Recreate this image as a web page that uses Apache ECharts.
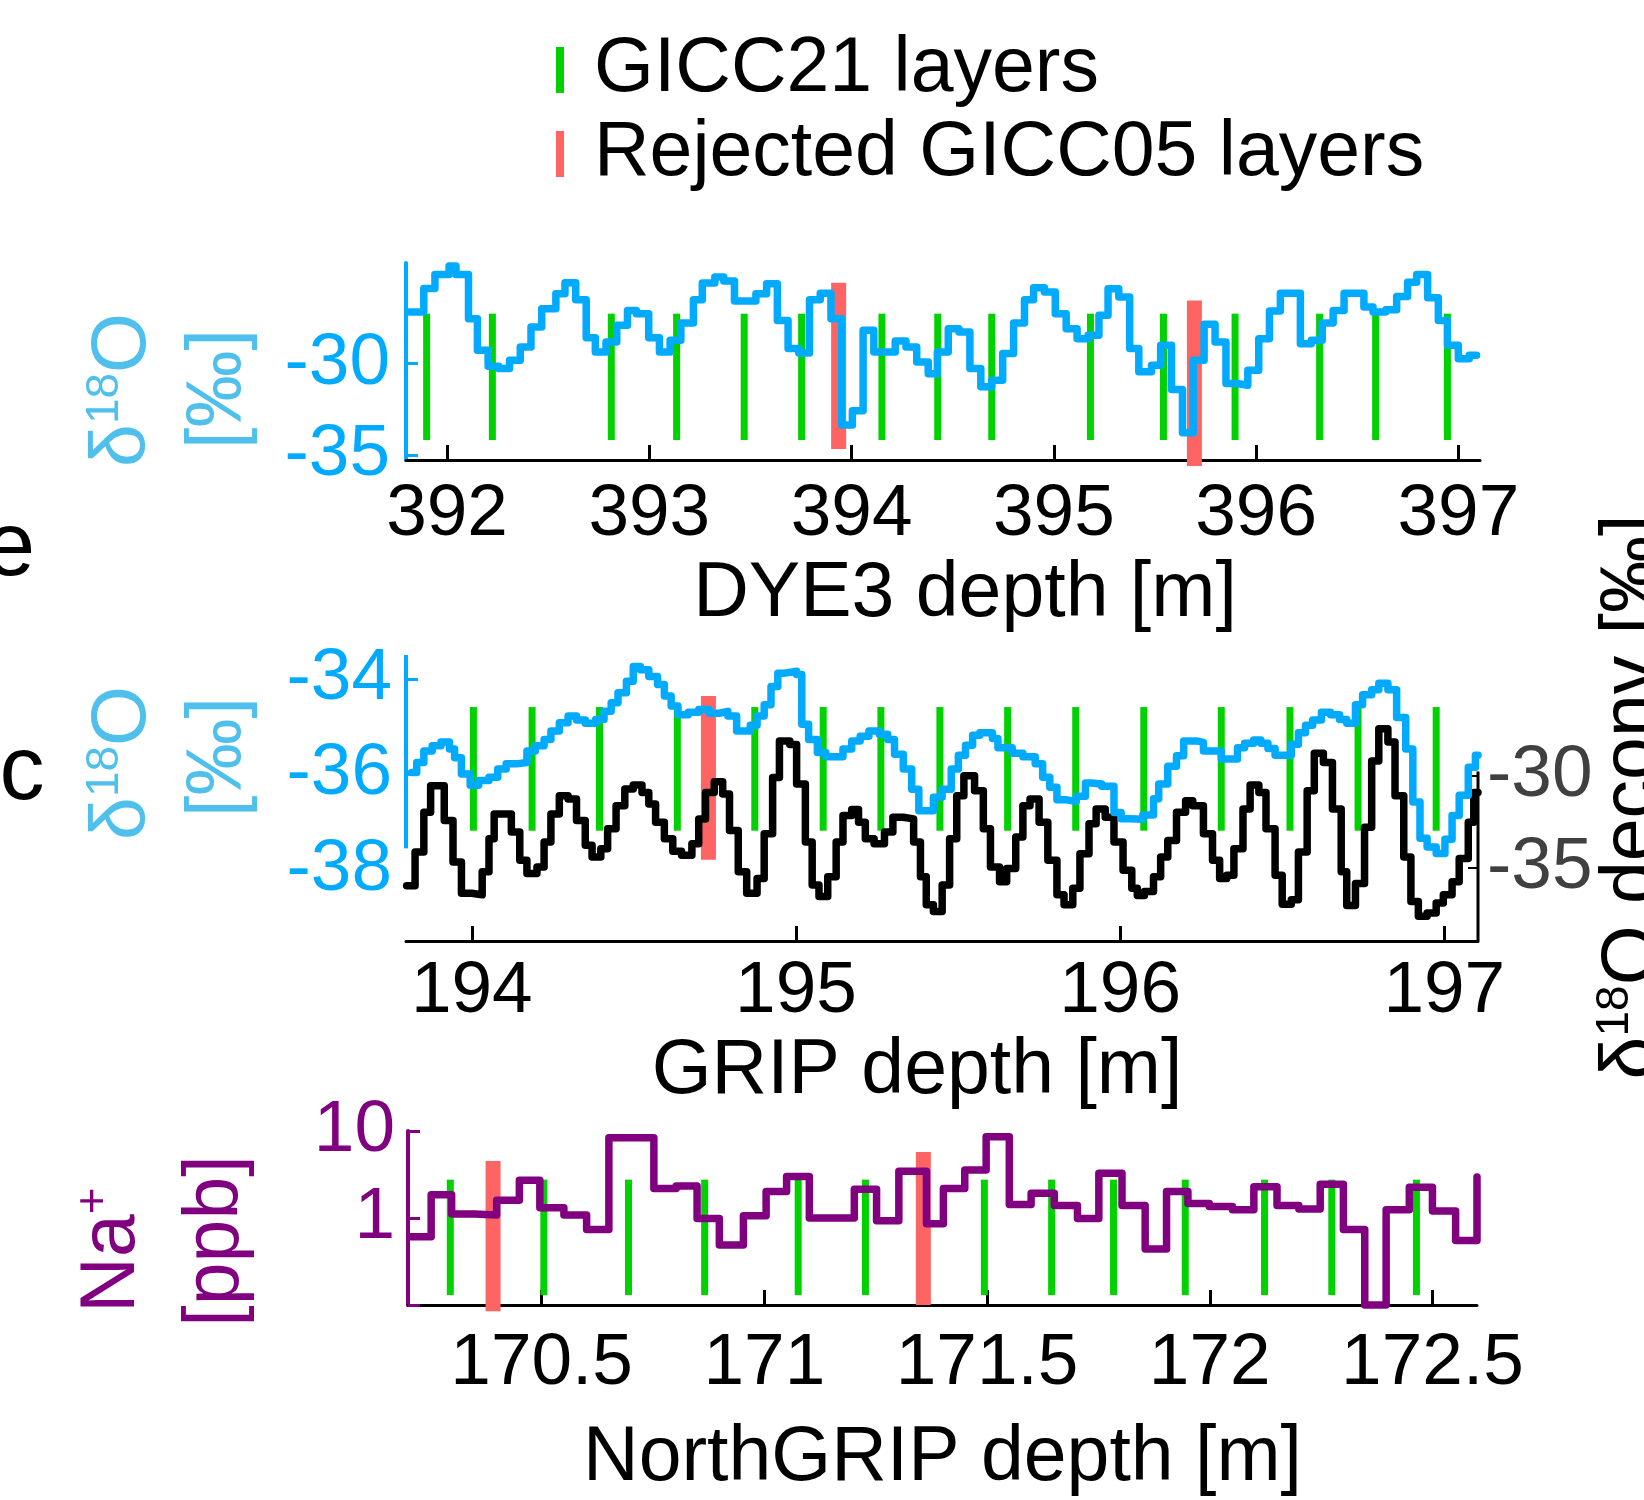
<!DOCTYPE html>
<html><head><meta charset="utf-8">
<script src="https://cdn.jsdelivr.net/npm/echarts@6/dist/echarts.min.js"></script>
<style>html,body{margin:0;padding:0;background:#fff}#chart{width:1644px;height:1500px}</style>
</head><body><div id="chart"></div>
<script>
// ---------- DYE3 (panel e) ----------
const dye3Depth = [391.815,391.885,391.94,392.01,392.044,392.106,392.15,392.203,392.256,392.309,392.362,392.415,392.468,392.538,392.583,392.636,392.688,392.733,392.786,392.839,392.892,392.936,392.997,393.05,393.103,393.156,393.218,393.262,393.324,393.368,393.421,393.527,393.58,393.633,393.686,393.739,393.792,393.845,393.898,393.951,394.004,394.057,394.11,394.216,394.269,394.322,394.379,394.424,394.478,394.531,394.585,394.639,394.693,394.747,394.801,394.855,394.9,394.953,395.007,395.061,395.115,395.169,395.223,395.268,395.321,395.375,395.42,395.483,395.528,395.582,395.636,395.689,395.743,395.797,395.851,395.905,395.959,396.013,396.066,396.12,396.219,396.273,396.327,396.381,396.435,396.533,396.578,396.641,396.695,396.749,396.794,396.848,396.901,396.946,397.0,397.054,397.09];
const dye3D18O = [-27.18,-25.9,-25.13,-24.67,-25.13,-27.55,-29.27,-30.15,-30.27,-29.82,-29.09,-28.0,-27.0,-26.18,-25.58,-26.51,-28.58,-29.36,-28.82,-27.91,-27.09,-27.27,-28.58,-29.36,-28.73,-27.78,-26.51,-25.6,-25.27,-25.49,-26.58,-26.18,-25.64,-27.64,-29.18,-29.42,-26.51,-26.15,-27.55,-33.36,-32.58,-28.18,-29.36,-28.76,-29.09,-29.91,-30.55,-29.36,-28.09,-28.27,-30.27,-31.27,-30.91,-29.45,-27.78,-26.51,-25.85,-26.09,-27.27,-28.09,-28.64,-28.45,-27.36,-25.91,-26.36,-29.18,-30.45,-30.09,-29.0,-31.42,-33.78,-29.82,-27.85,-28.82,-31.09,-31.18,-30.36,-28.64,-27.13,-26.15,-28.91,-28.73,-27.78,-27.09,-26.15,-26.91,-27.18,-27.05,-26.33,-25.55,-25.13,-26.4,-27.64,-29.0,-29.73,-29.55,-29.55];
const dye3Layers = [391.899,392.224,392.812,393.135,393.469,393.753,394.15,394.426,394.693,395.181,395.542,395.896,396.314,396.591,396.946];
const dye3Rejected = [393.936,395.695];
const dye3LayerSpan = [-34.18,-27.27];
const dye3RejectedSpans = [[-34.67,-25.58],[-35.6,-26.55]];
const dye3XTicks = [392,393,394,395,396,397];
const dye3YTicks = [-35,-30];

// ---------- GRIP (panel c) ----------
const gripDepth = [193.814,193.830,193.852,193.878,193.905,193.931,193.947,193.968,193.995,194.021,194.053,194.08,194.106,194.138,194.170,194.196,194.223,194.244,194.270,194.297,194.323,194.35,194.382,194.408,194.43,194.451,194.477,194.498,194.520,194.546,194.573,194.594,194.615,194.636,194.668,194.700,194.732,194.764,194.79,194.817,194.859,194.88,194.902,194.923,194.944,194.965,195.002,195.018,195.039,195.066,195.092,195.145,195.172,195.198,195.225,195.257,195.283,195.304,195.331,195.357,195.379,195.424,195.451,195.479,195.501,195.523,195.545,195.567,195.606,195.623,195.667,195.700,195.738,195.761,195.783,195.805,195.832,195.865,195.893,195.91,195.943,195.981,196.003,196.031,196.07,196.103,196.119,196.147,196.174,196.196,196.235,196.257,196.312,196.362,196.384,196.412,196.434,196.456,196.478,196.528,196.55,196.572,196.594,196.621,196.649,196.677,196.699,196.726,196.748,196.776,196.798,196.826,196.853,196.881,196.903,196.925,196.947,196.975,197.002,197.024,197.046,197.074,197.096,197.104];
const gripD18O = [-35.96,-35.75,-35.51,-35.40,-35.32,-35.47,-35.65,-35.99,-36.23,-36.13,-36.06,-35.89,-35.78,-35.75,-35.51,-35.40,-35.27,-35.09,-34.92,-34.78,-34.86,-34.93,-34.85,-34.68,-34.50,-34.29,-34.05,-33.74,-33.81,-33.95,-34.12,-34.36,-34.57,-34.75,-34.70,-34.64,-34.72,-34.68,-34.78,-35.09,-34.97,-34.78,-34.54,-34.16,-33.88,-33.84,-33.91,-34.95,-35.27,-35.54,-35.63,-35.47,-35.30,-35.20,-35.09,-35.16,-35.27,-35.58,-35.89,-36.31,-36.76,-36.48,-36.31,-35.89,-35.60,-35.39,-35.18,-35.13,-35.25,-35.44,-35.56,-35.63,-35.78,-36.06,-36.27,-36.53,-36.57,-36.46,-36.18,-36.20,-36.25,-36.80,-36.93,-36.94,-36.85,-36.51,-36.20,-35.83,-35.61,-35.30,-35.33,-35.51,-35.68,-35.44,-35.35,-35.28,-35.35,-35.46,-35.60,-35.37,-35.13,-34.97,-34.86,-34.70,-34.75,-34.85,-34.93,-34.54,-34.33,-34.23,-34.09,-34.23,-34.81,-35.47,-36.58,-37.34,-37.52,-37.66,-37.36,-36.86,-36.44,-35.85,-35.60,-35.60];
const gripDeconvDepth = [193.799,193.825,193.852,193.873,193.915,193.942,193.968,194.0,194.032,194.053,194.069,194.122,194.148,194.17,194.201,194.223,194.244,194.27,194.297,194.323,194.35,194.371,194.398,194.419,194.445,194.472,194.498,194.525,194.546,194.567,194.594,194.62,194.647,194.679,194.7,194.721,194.748,194.774,194.795,194.822,194.848,194.88,194.902,194.928,194.949,194.981,195.002,195.029,195.05,195.071,195.098,195.124,195.145,195.172,195.193,195.214,195.241,195.273,195.299,195.331,195.363,195.384,195.402,195.424,195.451,195.474,195.496,195.518,195.551,195.578,195.6,195.628,195.65,195.678,195.7,195.722,195.75,195.777,195.805,195.827,195.854,195.876,195.904,195.926,195.954,195.981,196.009,196.036,196.053,196.075,196.103,196.125,196.147,196.174,196.202,196.224,196.257,196.285,196.307,196.329,196.351,196.379,196.401,196.428,196.45,196.478,196.5,196.528,196.55,196.577,196.599,196.627,196.655,196.682,196.699,196.726,196.754,196.776,196.798,196.826,196.848,196.875,196.897,196.92,196.947,196.975,196.997,197.024,197.046,197.074,197.091,197.104];
const gripDeconv = [-35.96,-34.13,-31.97,-30.53,-32.42,-34.67,-36.37,-36.46,-35.21,-33.41,-32.06,-33.05,-34.58,-35.30,-34.94,-33.59,-32.06,-31.07,-31.25,-32.42,-33.77,-34.40,-33.95,-32.87,-31.61,-30.71,-30.49,-30.89,-31.52,-32.51,-33.41,-34.09,-34.31,-33.68,-32.33,-30.89,-30.31,-30.98,-32.96,-35.21,-36.37,-35.57,-33.14,-30.08,-28.10,-28.28,-30.44,-33.59,-35.93,-36.55,-35.48,-33.59,-32.15,-31.82,-32.51,-33.41,-33.68,-33.05,-32.24,-32.33,-33.59,-35.48,-37.00,-37.36,-35.93,-33.41,-31.07,-29.99,-30.80,-32.87,-34.94,-35.75,-35.03,-33.32,-31.61,-31.25,-32.51,-34.58,-36.46,-37.00,-36.10,-34.22,-32.60,-31.79,-32.24,-33.59,-35.12,-36.10,-36.50,-36.28,-35.48,-34.40,-33.50,-31.97,-31.34,-31.61,-33.14,-34.58,-35.57,-35.39,-33.95,-31.79,-30.49,-30.89,-32.87,-35.39,-36.97,-36.73,-34.13,-30.80,-28.76,-29.27,-31.79,-35.21,-37.04,-35.84,-32.78,-29.18,-27.43,-28.15,-31.07,-34.40,-36.82,-37.63,-37.45,-36.91,-36.46,-35.75,-34.49,-32.51,-30.89,-30.89];
const gripLayers = [194.005,194.186,194.394,194.634,194.873,195.084,195.262,195.444,195.653,195.863,196.073,196.312,196.524,196.734,196.975];
const gripRejected = [194.73];
const gripLayerSpan = [-37.18,-34.59];
const gripRejectedSpan = [-37.79,-34.36];
const gripXTicks = [194,195,196,197];
const gripYTicks = [-38,-36,-34];
const deconvYTicks = [-35,-30];

// ---------- NorthGRIP ----------
const ngripDepth = [170.205,170.252,170.298,170.349,170.399,170.45,170.496,170.55,170.601,170.651,170.752,170.802,170.849,170.899,170.953,171.004,171.05,171.101,171.202,171.252,171.302,171.364,171.402,171.45,171.498,171.55,171.599,171.651,171.703,171.751,171.803,171.855,171.903,171.951,171.999,172.051,172.099,172.151,172.2,172.248,172.3,172.348,172.396,172.448,172.5,172.552,172.6];
const ngripNa = [0.61,1.85,1.11,1.08,1.6,2.71,1.31,1.08,0.74,8.36,2.19,2.33,0.99,0.49,1.06,2.01,3.0,1.0,2.14,0.93,3.44,0.86,2.19,3.57,8.58,1.43,1.93,1.39,0.99,3.27,1.39,0.44,2.01,1.47,1.36,1.24,2.29,1.39,1.27,2.45,0.74,0.1,1.24,2.25,1.2,0.55,2.96];
const ngripLayers = [170.295,170.505,170.695,170.866,171.076,171.227,171.494,171.645,171.784,171.945,172.123,172.274,172.464];
const ngripRejected = [170.391,171.357];
const ngripLayerSpan = [0.13,2.76];
const ngripRejectedSpans = [[0.085,4.52],[0.1,5.74]];
const ngripXTicks = [170.5,171,171.5,172,172.5];

// ---------- styling ----------
const FONT = '"Liberation Sans", Arial, Helvetica, sans-serif';
const BLUE = '#00AAFF', TITLE_BLUE = '#4FC0EC', GREEN = '#00D200', RED = '#FF6464', PURPLE = '#800080';
const LAYER = 'GICC21 layers', REJ = 'Rejected GICC05 layers';

function stepSeries(xi, yi, depth, vals, color, width, clip) {
  return { type: 'line', xAxisIndex: xi, yAxisIndex: yi, step: 'end', symbol: 'none', silent: true,
    clip: clip !== false, z: 5,
    data: depth.map((d, i) => [d, vals[i]]),
    lineStyle: { color, width, cap: 'round', join: 'round' }, itemStyle: { color } };
}
function barSeries(name, xi, yi, depth, spans, color, width) {
  return { type: 'custom', name, xAxisIndex: xi, yAxisIndex: yi, clip: false, z: 2, silent: true,
    itemStyle: { color },
    data: depth.map((d, i) => { const s = Array.isArray(spans[0]) ? spans[i] : spans; return [d, s[0], s[1]]; }),
    encode: { x: 0, y: [1, 2] },
    renderItem: (params, api) => {
      const a = api.coord([api.value(0), api.value(1)]);
      const b = api.coord([api.value(0), api.value(2)]);
      return { type: 'rect', shape: { x: a[0] - width / 2, y: Math.min(a[1], b[1]), width, height: Math.abs(a[1] - b[1]) },
        style: { fill: color } };
    } };
}
function axisSegment(xi, yi, pts, color, width) {
  return { type: 'line', xAxisIndex: xi, yAxisIndex: yi, symbol: 'none', silent: true, clip: false, z: 4,
    data: pts, lineStyle: { color, width, cap: 'butt' } };
}
function xAxisOf(grid, min, max, ticks, name, gap, pad, margin) {
  return { gridIndex: grid, type: 'value', min, max,
    axisLine: { show: true, onZero: false, lineStyle: { color: '#000', width: 3 } },
    axisTick: { show: true, inside: true, length: 15, lineStyle: { color: '#000', width: 3 }, customValues: ticks },
    axisLabel: { customValues: ticks, fontSize: 73, color: '#000', fontFamily: FONT, margin, hideOverlap: false },
    splitLine: { show: false },
    name, nameLocation: 'middle', nameGap: gap,
    nameTextStyle: { fontSize: 77, color: '#000', fontFamily: FONT, lineHeight: 80, padding: pad } };
}
const sup = (color) => ({ a: { fontSize: 77, fontFamily: FONT, fill: color, lineHeight: 84 },
                           s: { fontSize: 46, fontFamily: FONT, fill: color, lineHeight: 46, verticalAlign: 'top' } });
function rotText(x, y, text, color, rich) {
  const el = { type: 'text', x, y, rotation: Math.PI / 2, silent: true,
    style: { text, align: 'center', verticalAlign: 'middle', fill: color, fontSize: 77, fontFamily: FONT } };
  if (rich) el.style.rich = sup(color);
  return el;
}

const option = {
  animation: false,
  backgroundColor: '#fff',
  textStyle: { fontFamily: FONT },
  legend: { data: [LAYER, REJ], orient: 'vertical', left: 556, top: 28, padding: 0, itemGap: 0,
    itemWidth: 8, itemHeight: 46, icon: 'rect', selectedMode: false,
    textStyle: { fontSize: 77, color: '#000', fontFamily: FONT, lineHeight: 84, padding: [0, 0, 0, 25] } },
  grid: [
    { left: 406, top: 263, width: 1074, height: 197 },
    { left: 406, top: 655, width: 1072, height: 286 },
    { left: 408, top: 1131, width: 1069, height: 180 }
  ],
  xAxis: [
    xAxisOf(0, 391.797, 397.107, dye3XTicks, 'DYE3 depth [m]', 95, [0, 0, 0, 44], 18),
    xAxisOf(1, 193.797, 197.104, gripXTicks, 'GRIP depth [m]', 91, [0, 50, 0, 0], 14),
    xAxisOf(2, 170.2, 172.6, ngripXTicks, 'NorthGRIP depth [m]', 114, 0, 22)
  ],
  yAxis: [
    { gridIndex: 0, type: 'value', min: -35.27, max: -24.5,
      axisLine: { show: true, onZero: false, lineStyle: { color: BLUE, width: 4 } },
      axisTick: { show: true, inside: true, length: 12, lineStyle: { color: BLUE, width: 3 }, customValues: dye3YTicks },
      axisLabel: { customValues: dye3YTicks, color: BLUE, fontSize: 73, fontFamily: FONT, margin: 16 },
      splitLine: { show: false } },
    { gridIndex: 1, type: 'value', min: -39.49, max: -33.5,
      axisLine: { show: false },
      axisTick: { show: true, inside: true, length: 12, lineStyle: { color: BLUE, width: 3 }, customValues: [-34, -36] },
      axisLabel: { customValues: gripYTicks, color: BLUE, fontSize: 73, fontFamily: FONT, margin: 14 },
      splitLine: { show: false } },
    { gridIndex: 1, type: 'value', position: 'right', min: -38.97, max: -23.42,
      axisLine: { show: false },
      axisTick: { show: true, inside: true, length: 10, lineStyle: { color: '#000', width: 2 }, customValues: deconvYTicks },
      axisLabel: { customValues: deconvYTicks, color: '#404040', fontSize: 73, fontFamily: FONT, margin: 9 },
      splitLine: { show: false } },
    { gridIndex: 2, type: 'log', logBase: 10, min: 0.1, max: 10,
      axisLine: { show: true, onZero: false, lineStyle: { color: PURPLE, width: 4 } },
      axisTick: { show: true, inside: true, length: 12, lineStyle: { color: PURPLE, width: 3 } },
      axisLabel: { color: PURPLE, fontSize: 73, fontFamily: FONT, margin: 13,
        formatter: v => (v >= 0.99 ? String(Math.round(v)) : '') },
      splitLine: { show: false }, minorTick: { show: false } }
  ],
  series: [
    barSeries(LAYER, 0, 0, dye3Layers, dye3LayerSpan, GREEN, 7),
    barSeries(REJ, 0, 0, dye3Rejected, dye3RejectedSpans, RED, 15),
    stepSeries(0, 0, dye3Depth, dye3D18O, BLUE, 7.5),

    barSeries(LAYER, 1, 1, gripLayers, gripLayerSpan, GREEN, 7),
    barSeries(REJ, 1, 1, gripRejected, gripRejectedSpan, RED, 15),
    axisSegment(1, 1, [[193.797, -33.5], [193.797, -37.55]], BLUE, 4),
    axisSegment(1, 2, [[197.104, -29.75], [197.104, -38.97]], '#000', 3),
    stepSeries(1, 2, gripDeconvDepth, gripDeconv, '#000', 7.5),
    stepSeries(1, 1, gripDepth, gripD18O, BLUE, 7.5),

    barSeries(LAYER, 2, 3, ngripLayers, ngripLayerSpan, GREEN, 7),
    barSeries(REJ, 2, 3, ngripRejected, ngripRejectedSpans, RED, 15),
    stepSeries(2, 3, ngripDepth, ngripNa, PURPLE, 7.5, false)
  ],
  graphic: [
    { type: 'text', x: 10, y: 550, silent: true, style: { text: 'e', fontSize: 90, fontFamily: FONT, fill: '#000', align: 'center', verticalAlign: 'middle' } },
    { type: 'text', x: 22, y: 774, silent: true, style: { text: 'c', fontSize: 90, fontFamily: FONT, fill: '#000', align: 'center', verticalAlign: 'middle' } },
    rotText(124, 390, '{a|δ}{s|18}{a|O}', TITLE_BLUE, true),
    rotText(220, 389, '[‰]', TITLE_BLUE, false),
    rotText(124, 763, '{a|δ}{s|18}{a|O}', TITLE_BLUE, true),
    rotText(220, 757, '[‰]', TITLE_BLUE, false),
    rotText(113, 1250, '{a|Na}{s|+}', PURPLE, true),
    rotText(217, 1241, '[ppb]', PURPLE, false),
    rotText(1634, 797, '{a|δ}{s|18}{a|O deconv [‰]}', '#000', true)
  ]
};
const chart = echarts.init(document.getElementById('chart'), null, { renderer: 'canvas' });
chart.setOption(option);
</script></body></html>
